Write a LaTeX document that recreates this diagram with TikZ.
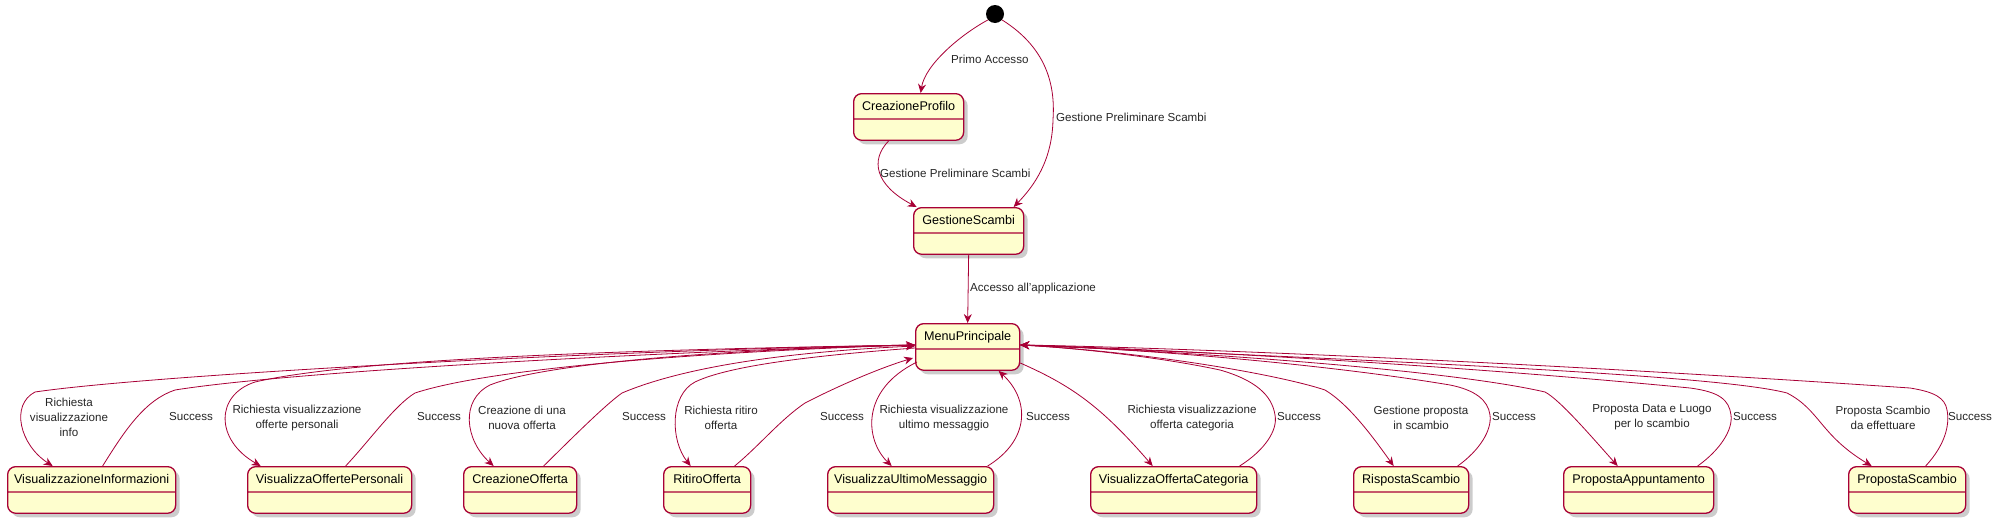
\documentclass[tikz,border=0pt]{standalone}
\usepackage{fontspec}
\setmainfont{Liberation Sans}
\usetikzlibrary{shapes.multipart,shadows,arrows.meta}
\definecolor{umlred}{HTML}{A80036}
\definecolor{umlfill}{HTML}{FEFECE}

\begin{document}
\begin{tikzpicture}[x=1pt,y=-1pt,
  state/.style={rectangle split, rectangle split parts=2, draw=umlred, line width=1.3pt,
    fill=umlfill, rounded corners=8pt, anchor=north west, inner xsep=0pt, inner ysep=6pt,
    text height=10pt, text depth=2pt, rectangle split empty part height=8pt,
    rectangle split empty part depth=0pt, font=\fontsize{12.6}{15}\selectfont,
    drop shadow={shadow xshift=4pt, shadow yshift=-4pt, opacity=0.4}},
  lbl/.style={font=\fontsize{11.6}{15}\selectfont, align=center, inner sep=0pt, text=black!85},
  tr/.style={draw=umlred, line width=0.8pt, -{Stealth[length=9pt,width=8pt,inset=3pt]}}]
\useasboundingbox (0,0) rectangle (2000,522);
% states
\node[circle, fill=black, minimum size=18pt, inner sep=0pt] (init) at (995,14) {};
\node[state, minimum width=110pt] (CreazioneProfilo) at (853,93) {CreazioneProfilo\nodepart{two}};
\node[state, minimum width=110pt] (GestioneScambi) at (913,207) {GestioneScambi\nodepart{two}};
\node[state, minimum width=104pt] (MenuPrincipale) at (915,323) {MenuPrincipale\nodepart{two}};
\node[state, minimum width=168pt] (VisInfo) at (7,466) {VisualizzazioneInformazioni\nodepart{two}};
\node[state, minimum width=164pt] (VisOffPers) at (247,466) {VisualizzaOffertePersonali\nodepart{two}};
\node[state, minimum width=113pt] (CreaOff) at (463,466) {CreazioneOfferta\nodepart{two}};
\node[state, minimum width=87pt] (RitiroOff) at (663,466) {RitiroOfferta\nodepart{two}};
\node[state, minimum width=166pt] (VisUltMsg) at (827,466) {VisualizzaUltimoMessaggio\nodepart{two}};
\node[state, minimum width=166pt] (VisOffCat) at (1090,466) {VisualizzaOffertaCategoria\nodepart{two}};
\node[state, minimum width=115pt] (RispScambio) at (1353,466) {RispostaScambio\nodepart{two}};
\node[state, minimum width=150pt] (PropApp) at (1563,466) {PropostaAppuntamento\nodepart{two}};
\node[state, minimum width=117pt] (PropScambio) at (1848,466) {PropostaScambio\nodepart{two}};
% top transitions
\draw[tr] (init.-140) .. controls (960,35) and (925,65) .. ([xshift=12pt]CreazioneProfilo.north);
\draw[tr] (init.-40) .. controls (1050,50) and (1055,90) .. (1053,120)
  .. controls (1052,160) and (1035,185) .. ([xshift=45pt]GestioneScambi.north);
\draw[tr] ([xshift=-20pt]CreazioneProfilo.south) .. controls (870,160) and (875,185) .. ([xshift=-52pt]GestioneScambi.north);
\draw[tr] (GestioneScambi.south) -- (MenuPrincipale.north);
\node[lbl, anchor=west] (lPrimo) at (951,59) {Primo Accesso};
\node[lbl, anchor=west] (lGest1) at (1056,117) {Gestione Preliminare Scambi};
\node[lbl, anchor=west] (lGest2) at (880,173) {Gestione Preliminare Scambi};
\node[lbl, anchor=west] (lAccesso) at (970,288) {Accesso all'applicazione};
% left side
\draw[tr] ([yshift=-22pt]MenuPrincipale.north west) .. controls (600,350) and (150,375) .. (35,392)
  .. controls (10,405) and (20,445) .. ([xshift=-39pt]VisInfo.north);
\draw[tr] ([xshift=11pt]VisInfo.north) .. controls (125,430) and (145,400) .. (175,390)
  .. controls (300,370) and (700,350) .. ([yshift=-22pt]MenuPrincipale.north west);
\draw[tr] ([yshift=-22pt]MenuPrincipale.north west) .. controls (600,350) and (350,360) .. (255,382)
  .. controls (215,395) and (215,440) .. ([xshift=-69pt]VisOffPers.north);
\draw[tr] ([xshift=16pt]VisOffPers.north) .. controls (370,440) and (395,405) .. (415,393)
  .. controls (500,365) and (750,350) .. ([yshift=-22pt]MenuPrincipale.north west);
\draw[tr] ([yshift=-22pt]MenuPrincipale.north west) .. controls (700,350) and (540,365) .. (490,385)
  .. controls (460,400) and (465,440) .. ([xshift=-26.5pt]CreaOff.north);
\draw[tr] ([xshift=23.5pt]CreaOff.north) .. controls (570,440) and (605,405) .. (622,393)
  .. controls (700,360) and (830,350) .. ([yshift=-23pt]MenuPrincipale.north west);
\draw[tr] ([yshift=-25pt]MenuPrincipale.north west) .. controls (820,355) and (730,365) .. (695,382)
  .. controls (670,395) and (670,440) .. ([xshift=-16.5pt]RitiroOff.north);
\draw[tr] ([xshift=27.5pt]RitiroOff.north) .. controls (760,445) and (780,420) .. (805,403)
  .. controls (840,385) and (880,368) .. ([xshift=-2pt,yshift=-35pt]MenuPrincipale.north west);
\draw[tr] ([xshift=2pt,yshift=-39pt]MenuPrincipale.north west) .. controls (860,390) and (865,440) .. ([xshift=-19pt]VisUltMsg.north);
\draw[tr] ([xshift=77pt]VisUltMsg.north) .. controls (1030,440) and (1030,400) .. ([xshift=31pt]MenuPrincipale.south);
\node[lbl] (lInfo) at (69,417) {Richiesta\\visualizzazione\\info};
\node[lbl] (sInfo) at (191,417) {Success};
\node[lbl] (lPers) at (297,417.5) {Richiesta visualizzazione\\offerte personali};
\node[lbl] (sPers) at (439,417) {Success};
\node[lbl] (lCrea) at (522,417.5) {Creazione di una\\nuova offerta};
\node[lbl] (sCrea) at (644,417) {Success};
\node[lbl] (lRitiro) at (721,417.5) {Richiesta ritiro\\offerta};
\node[lbl] (sRitiro) at (842,417) {Success};
\node[lbl] (lUlt) at (944,417.5) {Richiesta visualizzazione\\ultimo messaggio};
\node[lbl] (sUlt) at (1048,417) {Success};
% right side
\draw[tr] ([yshift=-40pt]MenuPrincipale.north east) .. controls (1070,385) and (1100,405) .. ([xshift=-21pt]VisOffCat.north);
\draw[tr] ([xshift=66pt]VisOffCat.north) .. controls (1265,450) and (1278,430) .. (1275,415)
  .. controls (1272,395) and (1255,380) .. (1220,370)
  .. controls (1150,355) and (1060,347) .. ([yshift=-22pt]MenuPrincipale.north east);
\draw[tr] ([yshift=-22pt]MenuPrincipale.north east) .. controls (1150,352) and (1280,375) .. (1325,390)
  .. controls (1350,405) and (1375,440) .. ([xshift=-17.5pt]RispScambio.north);
\draw[tr] ([xshift=46.5pt]RispScambio.north) .. controls (1480,450) and (1492,430) .. (1490,415)
  .. controls (1488,400) and (1475,390) .. (1450,385)
  .. controls (1300,360) and (1100,347) .. ([yshift=-22pt]MenuPrincipale.north east);
\draw[tr] ([yshift=-22pt]MenuPrincipale.north east) .. controls (1200,352) and (1450,370) .. (1545,392)
  .. controls (1560,400) and (1590,435) .. ([xshift=-21pt]PropApp.north);
\draw[tr] ([xshift=59pt]PropApp.north) .. controls (1720,450) and (1733,430) .. (1731,415)
  .. controls (1729,400) and (1720,392) .. (1690,388)
  .. controls (1400,360) and (1100,347) .. ([yshift=-22pt]MenuPrincipale.north east);
\draw[tr] ([yshift=-22pt]MenuPrincipale.north east) .. controls (1500,365) and (1730,378) .. (1787,393)
  .. controls (1820,410) and (1820,435) .. ([xshift=-35.5pt]PropScambio.north);
\draw[tr] ([xshift=18.5pt]PropScambio.north) .. controls (1945,445) and (1950,425) .. (1947,410)
  .. controls (1945,398) and (1935,392) .. (1910,388)
  .. controls (1500,360) and (1150,347) .. ([yshift=-22pt]MenuPrincipale.north east);
\node[lbl] (lCat) at (1192,417.5) {Richiesta visualizzazione\\offerta categoria};
\node[lbl] (sCat) at (1299,417) {Success};
\node[lbl] (lRisp) at (1421,417.5) {Gestione proposta\\in scambio};
\node[lbl] (sRisp) at (1514,417) {Success};
\node[lbl] (lApp) at (1652,417.5) {Proposta Data e Luogo\\per lo scambio};
\node[lbl] (sApp) at (1755,417) {Success};
\node[lbl] (lProp) at (1883,417.5) {Proposta Scambio\\da effettuare};
\node[lbl] (sProp) at (1970,417) {Success};
\end{tikzpicture}
\end{document}
